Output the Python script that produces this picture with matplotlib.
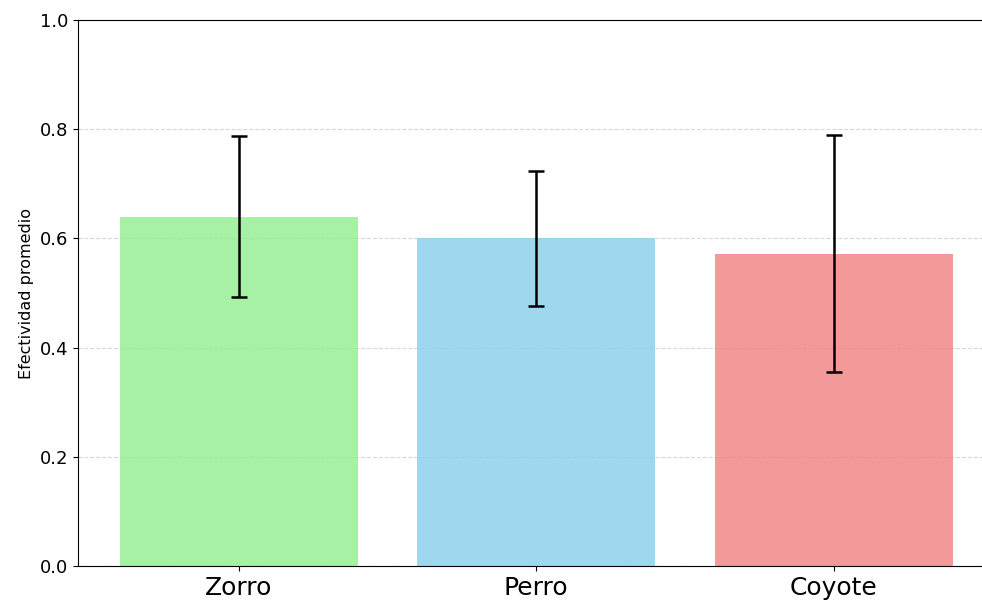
import matplotlib
matplotlib.use('Agg')
import matplotlib.pyplot as plt

# effectiveness by predator
categories = ['Zorro', 'Perro', 'Coyote']
means = [0.640, 0.600, 0.572]
errors = [0.147, 0.123, 0.217]
colors = ['lightgreen', 'skyblue', 'lightcoral']


def main():
	fig = plt.figure(figsize=(9.82, 6.04), dpi=100)
	ax = fig.add_axes([0.0794, 0.0629, 0.933, 0.904])

	ax.bar(categories, means, yerr=errors, color=colors, alpha=0.8,
	       capsize=6, error_kw={'elinewidth': 1.8, 'capthick': 1.8, 'ecolor': 'black'},
	       zorder=2)
	ax.set_ylim(0, 1.0)
	ax.set_ylabel('Efectividad promedio', fontsize=11.5)
	ax.tick_params(axis='x', labelsize=18)
	ax.tick_params(axis='y', labelsize=13)
	ax.grid(axis='y', linestyle='--', alpha=0.5, zorder=0)
	ax.set_axisbelow(True)

	fig.savefig('out.png', dpi=100)


if __name__ == '__main__':
	main()
